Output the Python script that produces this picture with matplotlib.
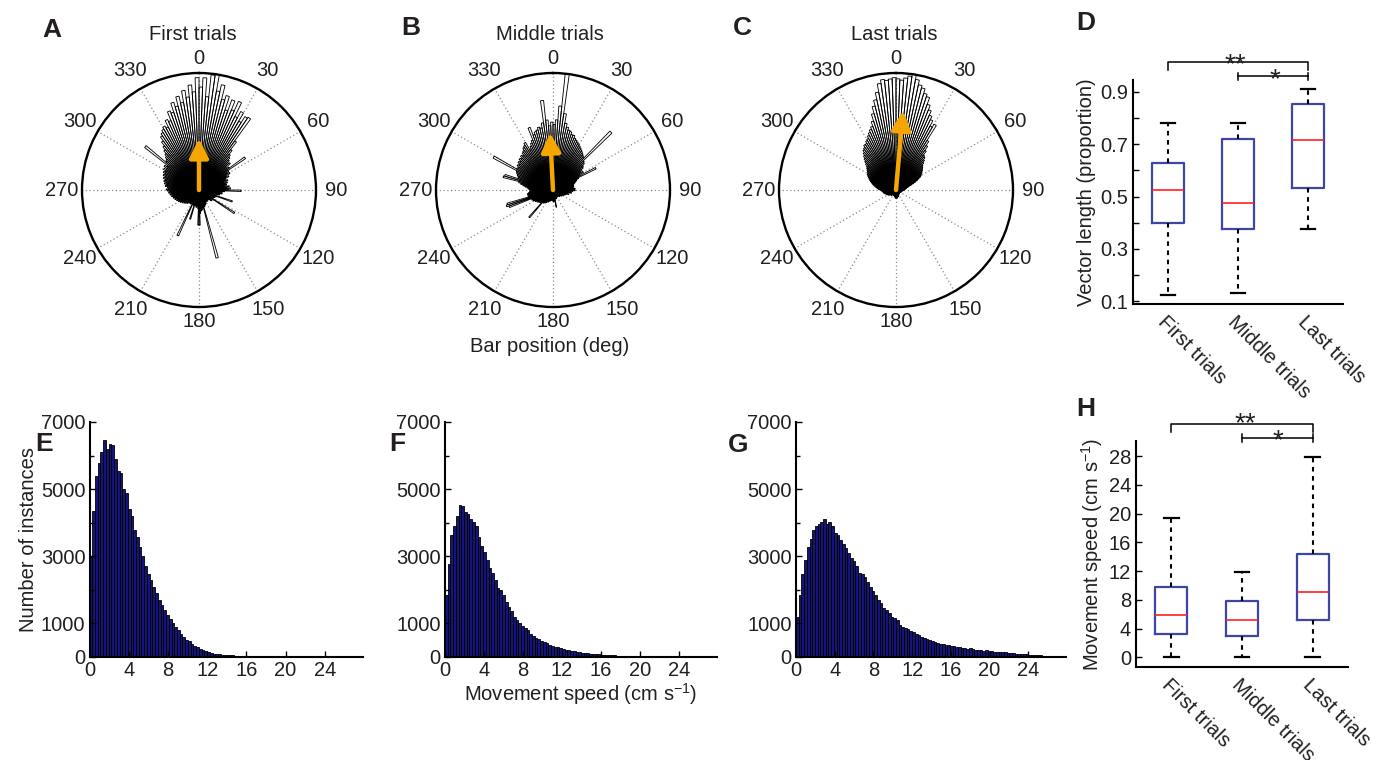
import numpy as np
import matplotlib
matplotlib.use('Agg')
import matplotlib.pyplot as plt

plt.rcParams['font.family'] = ['Liberation Sans', 'DejaVu Sans']
plt.rcParams['mathtext.default'] = 'regular'
TXT = '#231F20'
FS = 14.5

# ---------------- polar rose data (2-degree bins, % of outer radius) ----------------
rose_first = [
    88, 96, 80, 99, 100, 86, 92, 80, 84, 72, 82, 74, 83, 70, 76,
    68, 74, 75, 52, 44, 40, 38, 36, 34, 35, 30, 32, 48, 30, 28,
    30, 26, 28, 25, 24, 26, 22, 25, 23, 24, 22, 26, 24, 27, 25,
    36, 22, 20, 18, 20, 17, 18, 16, 15, 30, 16, 14, 15, 13, 14,
    14, 36, 15, 13, 12, 14, 11, 12, 10, 11, 10, 12, 11, 10, 12,
    11, 13, 12, 14, 13, 15, 14, 60, 16, 15, 17, 18, 16, 20, 30,
    30, 16, 14, 13, 15, 12, 14, 12, 26, 13, 14, 12, 43, 13, 12,
    14, 12, 13, 14, 13, 15, 14, 16, 15, 17, 16, 18, 17, 19, 18,
    20, 19, 21, 20, 22, 21, 23, 22, 24, 23, 25, 24, 26, 25, 27,
    28, 26, 27, 29, 28, 30, 29, 31, 30, 32, 31, 33, 32, 34, 33,
    35, 33, 36, 34, 59, 37, 38, 40, 42, 45, 48, 52, 56, 58, 60,
    62, 60, 66, 64, 72, 70, 78, 74, 82, 76, 86, 80, 90, 84, 96,
]
rose_middle = [
    56, 60, 72, 100, 66, 58, 55, 53, 52, 50, 50, 48, 47, 46, 45,
    44, 43, 42, 41, 40, 39, 38, 70, 36, 35, 33, 32, 30, 28, 30,
    26, 41, 24, 22, 21, 20, 19, 18, 18, 17, 18, 17, 18, 19, 18,
    19, 17, 15, 14, 16, 13, 12, 14, 11, 12, 10, 11, 9, 10, 9,
    9, 8, 9, 8, 7, 8, 7, 8, 7, 6, 7, 6, 7, 6, 7,
    6, 7, 6, 7, 8, 7, 8, 7, 8, 15, 8, 9, 10, 9, 10,
    9, 8, 9, 8, 9, 8, 9, 10, 9, 10, 11, 10, 11, 12, 11,
    12, 13, 12, 14, 13, 31, 14, 15, 14, 16, 15, 17, 16, 18, 17,
    19, 18, 20, 19, 40, 42, 41, 22, 21, 22, 22, 21, 20, 20, 19,
    20, 21, 22, 24, 26, 28, 30, 44, 43, 31, 32, 33, 34, 35, 58,
    36, 35, 37, 36, 38, 37, 39, 38, 40, 39, 41, 42, 44, 45, 47,
    40, 42, 44, 46, 57, 50, 52, 53, 55, 54, 58, 77, 60, 55, 58,
]
rose_last = [
    95, 94, 96, 98, 100, 96, 92, 90, 86, 84, 78, 74, 70, 67, 62,
    65, 50, 46, 42, 38, 37, 35, 33, 31, 30, 29, 28, 27, 26, 25,
    24, 22, 20, 18, 16, 14, 12, 11, 10, 9, 9, 8, 8, 7, 7,
    7, 6, 6, 6, 5, 5, 5, 5, 5, 5, 4, 4, 4, 4, 4,
    4, 4, 4, 4, 4, 4, 4, 4, 4, 4, 4, 4, 4, 4, 5,
    5, 5, 5, 5, 6, 6, 6, 6, 6, 6, 7, 7, 7, 6, 7,
    7, 6, 7, 6, 6, 6, 6, 5, 5, 5, 5, 5, 5, 5, 5,
    5, 5, 5, 5, 5, 6, 6, 6, 6, 6, 7, 7, 7, 8, 8,
    8, 8, 9, 9, 9, 10, 10, 10, 11, 11, 11, 12, 12, 12, 13,
    14, 15, 16, 17, 18, 19, 20, 21, 22, 23, 24, 25, 26, 27, 28,
    28, 29, 30, 31, 32, 34, 36, 38, 40, 42, 44, 45, 47, 47, 49,
    50, 52, 54, 56, 58, 62, 68, 74, 79, 85, 92, 95, 94, 95, 96,
]
# mean vector (deg, length as fraction of radius)
mean_angle = [0, -3, 5]
mean_length = [0.44, 0.49, 0.68]
rose_titles = ['First trials', 'Middle trials', 'Last trials']
theta_ticks = list(range(0, 360, 30))
theta_labels = [str(a) for a in theta_ticks]

# ---------------- histogram data (100 bins over 0-27.9 cm/s) ----------------
speed_max = 27.9
hist_first = [
    3020, 4350, 5390, 5770, 6120, 6450, 6200, 6340, 6300, 5900,
    5540, 5480, 5010, 4880, 4420, 4190, 3770, 3580, 3290, 3000,
    2700, 2480, 2290, 2100, 1920, 1710, 1550, 1390, 1250, 1130,
    1000, 890, 800, 680, 600, 520, 470, 390, 330, 290,
    230, 200, 165, 140, 120, 100, 90, 75, 65, 60,
    55, 50, 45, 40, 36, 32, 28, 25, 22, 19,
    17, 15, 13, 11, 10, 9, 8, 7, 6, 5,
    4, 4, 3, 3, 2, 2, 2, 1, 1, 1,
    1, 1, 1, 0, 0, 0, 0, 0, 0, 0,
    0, 0, 0, 0, 0, 0, 0, 0, 0, 0,
]
hist_middle = [
    1850, 2770, 3620, 3900, 4200, 4520, 4490, 4310, 4250, 4100,
    4020, 3900, 3570, 3300, 3120, 2900, 2660, 2500, 2300, 2050,
    2000, 1850, 1650, 1500, 1360, 1190, 1090, 1000, 910, 850,
    790, 700, 630, 560, 530, 490, 440, 410, 360, 330,
    310, 290, 260, 240, 220, 200, 185, 170, 155, 140,
    130, 120, 110, 100, 92, 85, 78, 72, 66, 60,
    55, 50, 45, 40, 36, 32, 28, 25, 22, 19,
    16, 14, 12, 10, 9, 8, 7, 6, 5, 4,
    4, 3, 3, 2, 2, 2, 1, 1, 1, 1,
    1, 0, 0, 0, 0, 0, 0, 0, 0, 0,
]
hist_last = [
    1200, 1850, 2480, 2900, 3280, 3520, 3780, 3910, 3970, 4010,
    4110, 3970, 4010, 3910, 3700, 3620, 3480, 3380, 3250, 3100,
    2950, 2850, 2700, 2500, 2480, 2380, 2220, 2100, 1980, 1840,
    1700, 1600, 1470, 1400, 1300, 1200, 1150, 1100, 960, 900,
    860, 820, 780, 730, 700, 660, 610, 570, 540, 500,
    470, 445, 420, 400, 385, 370, 345, 330, 320, 300,
    290, 270, 255, 245, 260, 230, 215, 200, 195, 185,
    200, 175, 165, 160, 150, 145, 150, 135, 125, 120,
    105, 100, 92, 88, 80, 75, 70, 62, 58, 52,
    48, 42, 38, 32, 28, 22, 18, 12, 8, 5,
]
hist_yticks = [0, 1000, 3000, 5000, 7000]
hist_xticks = [0, 4, 8, 12, 16, 20, 24]

# ---------------- box plot data ----------------
groups = ['First trials', 'Middle trials', 'Last trials']
vec_lo = [0.126, 0.132, 0.375]
vec_q1 = [0.40, 0.375, 0.532]
vec_med = [0.525, 0.474, 0.717]
vec_q3 = [0.63, 0.72, 0.853]
vec_hi = [0.78, 0.78, 0.911]

spd_lo = [0.0, 0.0, 0.0]
spd_q1 = [3.24, 2.96, 5.19]
spd_med = [5.93, 5.23, 9.13]
spd_q3 = [9.74, 7.88, 14.37]
spd_hi = [19.4, 11.9, 27.9]

# ================= figure =================
fig = plt.figure(figsize=(13.84, 7.6), dpi=100)
W, H = 1384.0, 760.0


def rect(l, t, r, b):
    return [l / W, 1 - b / H, (r - l) / W, (b - t) / H]


def rose(box, vals, ang, length, title, tx):
    ax = fig.add_axes(box, projection='polar')
    ax.set_theta_zero_location('N')
    ax.set_theta_direction(-1)
    n = len(vals)
    w = 2 * np.pi / n
    th = np.arange(n) * w
    ax.set_axisbelow(True)
    ax.bar(th, np.asarray(vals) / 100.0, width=w, align='edge', bottom=0,
           fill=False, edgecolor='black', linewidth=0.62, zorder=2)
    ax.set_rlim(0, 1)
    ax.set_rticks([])
    ax.set_thetagrids(theta_ticks, labels=[''] * len(theta_ticks))
    ax.tick_params(axis='x', length=0)
    ax.xaxis.grid(True, linestyle=(0, (1, 2)), color='#8c8c8c', linewidth=0.9)
    ax.yaxis.grid(False)
    ax.spines['polar'].set_linewidth(1.7)
    for t, lab in zip(theta_ticks, theta_labels):
        rr = 1.12 if t in (0, 180) else 1.175
        ax.text(np.deg2rad(t), rr, lab, ha='center', va='center', fontsize=FS,
                color=TXT, clip_on=False)
    a = np.deg2rad(ang)
    ax.annotate('', xy=(a, length), xytext=(a, 0),
                arrowprops=dict(arrowstyle='-|>,head_width=0.26,head_length=0.52',
                                color='#F5A700', lw=3.2, shrinkA=0, shrinkB=0,
                                mutation_scale=22), zorder=5)
    fig.text(tx / W, 1 - 34 / H, title, ha='center', va='center', fontsize=FS, color=TXT)
    return ax


rose(rect(82, 73, 316, 307), rose_first, mean_angle[0], mean_length[0], rose_titles[0], 193)
rose(rect(436, 73, 670, 307), rose_middle, mean_angle[1], mean_length[1], rose_titles[1], 550)
rose(rect(779, 73, 1013, 307), rose_last, mean_angle[2], mean_length[2], rose_titles[2], 894)
fig.text(550 / W, 1 - 346 / H, 'Bar position (deg)', ha='center', va='center', fontsize=FS, color=TXT)


def hist(box, vals, ylabel=None, xlabel=None):
    ax = fig.add_axes(box)
    n = len(vals)
    bw = speed_max / n
    left = np.arange(n) * bw
    ax.bar(left, vals, width=bw, align='edge', color='#14147A', edgecolor='black', linewidth=0.6)
    ax.set_xlim(0, speed_max)
    ax.set_ylim(0, 7000)
    ax.set_xticks(hist_xticks)
    ax.set_yticks(hist_yticks)
    ax.set_yticks([2000, 4000, 6000], minor=True)
    for s in ['top', 'right']:
        ax.spines[s].set_visible(False)
    for s in ['left', 'bottom']:
        ax.spines[s].set_linewidth(1.5)
    ax.tick_params(which='both', direction='in', labelsize=FS, labelcolor=TXT, width=1.0)
    ax.tick_params(which='major', length=4, pad=3)
    ax.tick_params(which='minor', length=3)
    if ylabel:
        ax.set_ylabel(ylabel, fontsize=FS, color=TXT, labelpad=2)
    if xlabel:
        ax.set_xlabel(xlabel, fontsize=FS, color=TXT, labelpad=1)
    return ax


hist(rect(89.5, 422, 363, 657), hist_first, ylabel='Number of instances')
hist(rect(445, 422, 717, 657), hist_middle, xlabel='Movement speed (cm s$^{-1}$)')
hist(rect(796, 422, 1066, 657), hist_last)


def boxes(box, lo, q1, med, q3, hi, ylim, yticks, ylabels, minor, ylabel, br):
    ax = fig.add_axes(box)
    stats = [dict(med=m, q1=a, q3=b, whislo=l, whishi=h, fliers=[])
             for l, a, m, b, h in zip(lo, q1, med, q3, hi)]
    ax.bxp(stats, positions=[1, 2, 3], widths=0.45, capwidths=0.21, showfliers=False,
           boxprops=dict(color='#3D47A3', linewidth=1.6),
           medianprops=dict(color='#FF2020', linewidth=1.2),
           whiskerprops=dict(color='black', linewidth=1.5, linestyle=(0, (2.2, 2.2))),
           capprops=dict(color='black', linewidth=1.6))
    ax.set_xlim(0.5, 3.5)
    ax.set_ylim(*ylim)
    ax.set_yticks(yticks)
    ax.set_yticklabels(ylabels)
    if minor is not None:
        ax.set_yticks(minor, minor=True)
    ax.set_xticks([1, 2, 3])
    ax.set_xticklabels(groups, rotation=-45, ha='left', va='top', rotation_mode='anchor')
    for s in ['top', 'right']:
        ax.spines[s].set_visible(False)
    for s in ['left', 'bottom']:
        ax.spines[s].set_linewidth(1.5)
    ax.tick_params(axis='y', which='both', direction='in', labelsize=FS, labelcolor=TXT, width=1.0)
    ax.tick_params(axis='y', which='major', length=4)
    ax.tick_params(axis='y', which='minor', length=4)
    ax.tick_params(axis='x', length=0, labelsize=FS, labelcolor=TXT, pad=6)
    ax.set_ylabel(ylabel, fontsize=FS, color=TXT, labelpad=3)
    # significance brackets
    (y2, y2e, y1, d1, s2x, s2y, s1x, s1y) = br
    kw = dict(color='black', lw=1.1, clip_on=False)
    ax.plot([1, 1, 3, 3], [y2e, y2, y2, y2e], **kw)
    ax.plot([2, 2], [y1 - d1, y1 + d1], **kw)
    ax.plot([3, 3], [y1 - d1, y1 + d1], **kw)
    ax.plot([2, 3], [y1, y1], **kw)
    ax.text(s2x, s2y, '**', ha='center', va='baseline', fontsize=20, color=TXT, clip_on=False)
    ax.text(s1x, s1y, '*', ha='center', va='baseline', fontsize=20, color=TXT, clip_on=False)
    return ax


boxes(rect(1133, 80, 1343, 304), vec_lo, vec_q1, vec_med, vec_q3, vec_hi,
      (0.09, 0.945), [0.1, 0.3, 0.5, 0.7, 0.9], ['0.1', '0.3', '0.5', '0.7', '0.9'],
      [0.2, 0.4, 0.6, 0.8], 'Vector length (proportion)',
      (1.013, 0.985, 0.959, 0.0134, 1.96, 0.974, 2.52, 0.918))
boxes(rect(1136, 441, 1348, 667), spd_lo, spd_q1, spd_med, spd_q3, spd_hi,
      (-1.35, 30.1), list(range(0, 29, 4)), [str(v) for v in range(0, 29, 4)],
      None, 'Movement speed (cm s$^{-1}$)',
      (32.45, 31.38, 30.46, 0.55, 2.05, 31.45, 2.51, 29.05))

# panel letters
for letter, (x, y) in zip('ABCDEFGH', [(52, 30), (411, 28), (742, 28), (1086, 23),
                                        (44, 444), (397, 444), (738, 445), (1086, 409)]):
    fig.text(x / W, 1 - y / H, letter, ha='center', va='center', fontsize=19,
             fontweight='bold', color=TXT)

fig.savefig('out.png', dpi=100)
